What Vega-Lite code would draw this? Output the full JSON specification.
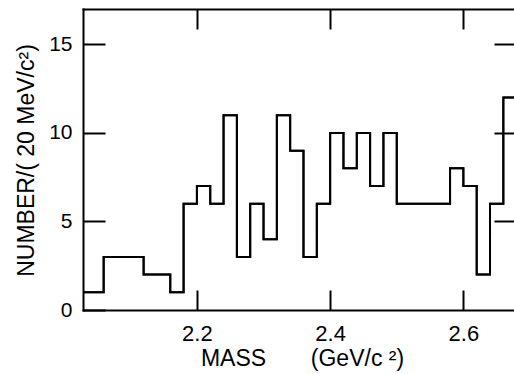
{
  "$schema": "https://vega.github.io/schema/vega-lite/v6.json",
  "width": 431,
  "height": 301,
  "autosize": {"type": "none"},
  "padding": {"left": 83, "top": 9, "right": 0, "bottom": 64},
  "background": "white",
  "config": {
    "view": {"stroke": null},
    "axis": {
      "domainColor": "black", "domainWidth": 2, "tickColor": "black", "tickWidth": 2,
      "labelFont": "Liberation Sans", "labelFontSize": 21, "labelColor": "black",
      "titleFont": "Liberation Sans", "titleFontSize": 23, "titleFontWeight": "normal", "titleColor": "black",
      "grid": false, "tickCap": "butt", "domainCap": "square"
    }
  },
  "data": {"values": [
    {"mass": 2.02, "count": 1}, {"mass": 2.04, "count": 1}, {"mass": 2.06, "count": 3}, {"mass": 2.08, "count": 3},
    {"mass": 2.10, "count": 3}, {"mass": 2.12, "count": 2}, {"mass": 2.14, "count": 2}, {"mass": 2.16, "count": 1},
    {"mass": 2.18, "count": 6}, {"mass": 2.20, "count": 7}, {"mass": 2.22, "count": 6}, {"mass": 2.24, "count": 11},
    {"mass": 2.26, "count": 3}, {"mass": 2.28, "count": 6}, {"mass": 2.30, "count": 4}, {"mass": 2.32, "count": 11},
    {"mass": 2.34, "count": 9}, {"mass": 2.36, "count": 3}, {"mass": 2.38, "count": 6}, {"mass": 2.40, "count": 10},
    {"mass": 2.42, "count": 8}, {"mass": 2.44, "count": 10}, {"mass": 2.46, "count": 7}, {"mass": 2.48, "count": 10},
    {"mass": 2.50, "count": 6}, {"mass": 2.52, "count": 6}, {"mass": 2.54, "count": 6}, {"mass": 2.56, "count": 6},
    {"mass": 2.58, "count": 8}, {"mass": 2.60, "count": 7}, {"mass": 2.62, "count": 2}, {"mass": 2.64, "count": 6},
    {"mass": 2.66, "count": 12}, {"mass": 2.68, "count": 12}
  ]},
  "layer": [
    {
      "mark": {"type": "line", "interpolate": "step-after", "color": "black", "strokeWidth": 2, "clip": true},
      "encoding": {
        "x": {"field": "mass", "type": "quantitative",
          "scale": {"domain": [2.029, 2.676], "nice": false, "zero": false},
          "axis": {"orient": "bottom", "values": [2.2, 2.4, 2.6], "format": ".1f", "tickSize": -20, "labelPadding": 33,
            "labelFontSize": 22,
            "title": "MASS\u00a0\u00a0\u00a0\u00a0\u00a0\u00a0\u00a0(GeV/c\u00a0²)", "titleX": 219, "titleY": 55,
            "titleBaseline": "alphabetic", "titleAlign": "center"}},
        "y": {"field": "count", "type": "quantitative",
          "scale": {"domain": [0, 17], "nice": false},
          "axis": {"orient": "left", "values": [0, 5, 10, 15], "tickSize": -22, "labelPadding": 33,
            "title": "NUMBER/(\u00a020 MeV/c²)", "titleX": -57, "titleY": 151, "titleAngle": -90,
            "titleBaseline": "middle", "titleAlign": "center"}}
      }
    },
    {
      "mark": {"type": "line", "interpolate": "step-after", "color": "black", "strokeWidth": 2, "clip": true},
      "encoding": {
        "x": {"field": "mass", "type": "quantitative",
          "scale": {"domain": [2.029, 2.676], "nice": false, "zero": false},
          "axis": {"orient": "top", "values": [2.2, 2.4, 2.6], "labels": false, "tickSize": -20, "title": null}},
        "y": {"field": "count", "type": "quantitative",
          "scale": {"domain": [0, 17], "nice": false},
          "axis": {"orient": "right", "values": [5, 10, 15], "labels": false, "domain": false, "tickSize": -20, "title": null}}
      }
    }
  ],
  "resolve": {"axis": {"x": "independent", "y": "independent"}}
}
